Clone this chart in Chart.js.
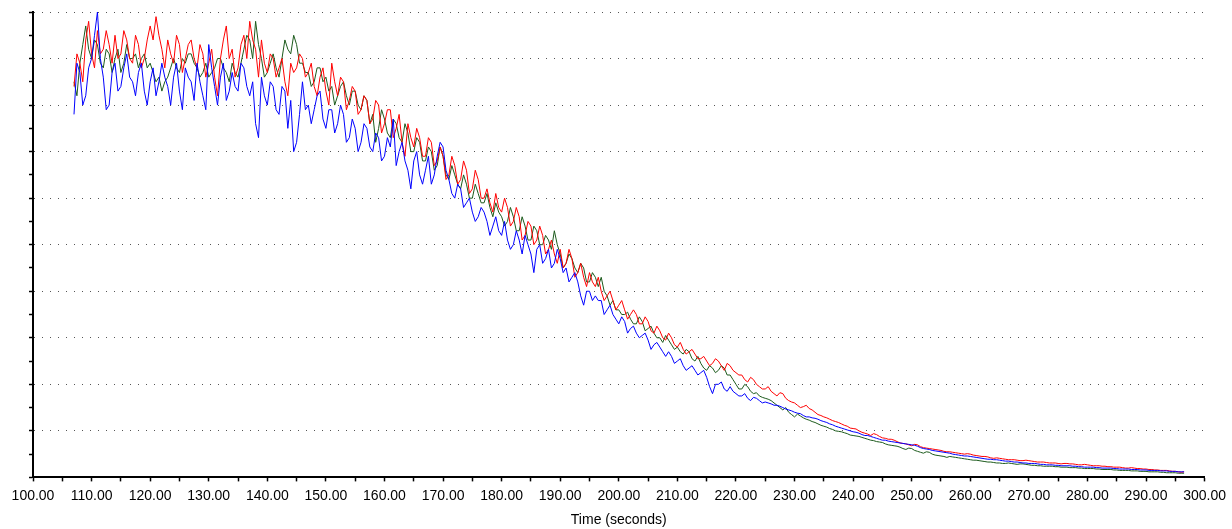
<!DOCTYPE html>
<html>
<head>
<meta charset="utf-8">
<script src="https://cdn.jsdelivr.net/npm/chart.js@4/dist/chart.umd.min.js"></script>
<style>
  html, body { margin: 0; padding: 0; background: #fff; }
  #wrap { width: 1232px; height: 529px; position: relative; }
</style>
</head>
<body>
<div id="wrap"><canvas id="chart"></canvas></div>
<script>
// sample times (seconds), one reading every half second from 107.0 to 296.5
var firstTime = 107;
var timeStep = 0.5;
var times = Array.from({ length: 380 }, (_, i) => firstTime + i * timeStep);

// readings, ten seconds (20 readings) per row
var redValues = [
    8.4, 9.1, 8.9, 8.5, 9.4, 9.8, 9.1, 8.8, 9.6, 9.1, 9.2, 9.6, 9.3, 8.9, 9.5, 9.0, 9.1, 9.6, 9.4, 9.0,
    8.9, 9.5, 9.3, 8.8, 9.0, 9.4, 9.7, 9.4, 9.9, 9.5, 9.2, 8.8, 9.4, 9.1, 8.9, 9.5, 9.3, 8.7, 9.0, 9.3,
    9.4, 9.0, 8.8, 9.3, 9.1, 8.6, 8.9, 9.2, 8.6, 8.2, 9.0, 9.4, 9.7, 9.0, 9.2, 8.6, 8.8, 9.3, 9.5, 9.0,
    9.8, 9.4, 9.2, 8.6, 9.4, 8.9, 8.7, 9.1, 9.0, 8.6, 8.8, 9.0, 8.5, 8.2, 8.9, 8.7, 8.8, 9.1, 9.0, 8.6,
    8.7, 8.9, 8.4, 8.2, 8.6, 8.8, 8.3, 8.0, 8.9, 8.5, 8.2, 8.6, 8.5, 7.9, 8.1, 8.4, 8.3, 7.8, 7.9, 8.2,
    8.1, 7.6, 7.7, 8.1, 8.0, 7.4, 7.6, 7.9, 7.9, 7.3, 7.5, 7.8, 7.2, 6.9, 7.6, 7.3, 7.1, 7.5, 7.3, 6.9,
    6.9, 7.3, 7.2, 6.7, 6.8, 7.1, 6.9, 6.4, 6.5, 6.9, 6.7, 6.3, 6.4, 6.8, 6.6, 6.1, 6.2, 6.6, 6.4, 6.0,
    6.0, 6.2, 5.9, 5.7, 6.1, 5.8, 5.7, 6.0, 5.8, 5.4, 5.5, 5.8, 5.6, 5.1, 5.2, 5.5, 5.4, 5.0, 5.1, 5.4,
    5.2, 4.8, 4.9, 5.1, 4.8, 4.6, 4.9, 4.5, 4.6, 4.9, 4.7, 4.3, 4.4, 4.6, 4.3, 4.1, 4.4, 4.2, 4.1, 4.3,
    4.0, 3.8, 3.9, 4.0, 3.8, 3.6, 3.7, 3.8, 3.6, 3.4, 3.5, 3.6, 3.5, 3.3, 3.3, 3.45, 3.35, 3.15, 3.1, 3.25,
    3.15, 3.0, 2.95, 3.1, 3.0, 2.85, 2.8, 2.9, 2.75, 2.65, 2.7, 2.75, 2.65, 2.55, 2.55, 2.6, 2.5, 2.4, 2.45, 2.55,
    2.5, 2.4, 2.3, 2.45, 2.4, 2.3, 2.25, 2.2, 2.2, 2.1, 2.05, 2.15, 2.1, 2.0, 1.95, 1.9, 1.9, 1.95, 1.85, 1.8,
    1.75, 1.82, 1.8, 1.7, 1.65, 1.62, 1.6, 1.55, 1.5, 1.52, 1.55, 1.48, 1.45, 1.4, 1.35, 1.33, 1.3, 1.28, 1.25, 1.22,
    1.2, 1.18, 1.15, 1.12, 1.1, 1.06, 1.05, 1.04, 1.0, 0.97, 0.95, 0.93, 0.9, 0.94, 0.92, 0.88, 0.85, 0.84, 0.82, 0.82,
    0.8, 0.77, 0.74, 0.73, 0.72, 0.7, 0.68, 0.71, 0.7, 0.66, 0.64, 0.63, 0.62, 0.61, 0.6, 0.59, 0.58, 0.56, 0.55, 0.55,
    0.54, 0.53, 0.52, 0.51, 0.5, 0.51, 0.5, 0.48, 0.47, 0.46, 0.45, 0.45, 0.44, 0.42, 0.41, 0.42, 0.41, 0.4, 0.39, 0.38,
    0.38, 0.38, 0.37, 0.36, 0.36, 0.37, 0.36, 0.35, 0.34, 0.33, 0.33, 0.33, 0.32, 0.31, 0.31, 0.31, 0.3, 0.29, 0.3, 0.3,
    0.29, 0.29, 0.28, 0.27, 0.27, 0.28, 0.27, 0.26, 0.25, 0.25, 0.25, 0.24, 0.24, 0.23, 0.23, 0.22, 0.22, 0.22, 0.21, 0.2,
    0.2, 0.21, 0.2, 0.19, 0.19, 0.18, 0.18, 0.17, 0.17, 0.16, 0.16, 0.15, 0.15, 0.15, 0.14, 0.13, 0.13, 0.12, 0.11, 0.12
];

var greenValues = [
    8.5, 8.2, 8.9, 9.3, 9.7, 9.2, 9.0, 9.4, 9.3, 8.9, 8.8, 9.2, 9.1, 8.7, 9.0, 9.2, 8.7, 8.9, 9.3, 9.0,
    9.0, 9.1, 8.8, 9.0, 9.1, 8.8, 8.9, 8.7, 8.5, 8.6, 8.3, 8.5, 8.6, 8.8, 9.0, 8.8, 8.7, 9.0, 8.9, 9.1,
    9.1, 8.9, 8.8, 8.6, 8.7, 8.9, 8.6, 8.7, 8.8, 9.0, 9.0, 8.8, 8.7, 8.5, 8.9, 8.7, 8.6, 8.9, 9.2, 9.5,
    9.4, 9.0, 9.8, 9.3, 9.0, 8.6, 8.7, 8.9, 9.1, 8.8, 8.6, 9.0, 9.4, 9.2, 9.1, 9.5, 9.3, 8.9, 8.9, 8.7,
    8.7, 8.4, 8.5, 8.8, 8.8, 8.5, 8.6, 8.3, 8.4, 8.0, 8.2, 8.4, 8.5, 8.2, 8.0, 8.3, 8.3, 8.0, 7.9, 8.2,
    8.1, 7.6, 7.8, 7.2, 7.5, 7.9, 7.7, 7.4, 7.3, 7.7, 7.6, 7.3, 7.2, 7.6, 7.4, 7.0, 7.0, 7.3, 7.2, 6.8,
    6.8, 7.1, 7.0, 6.6, 6.7, 7.1, 6.9, 6.5, 6.4, 6.7, 6.5, 6.3, 6.2, 6.5, 6.3, 6.0, 6.0, 6.3, 6.1, 5.9,
    5.9, 6.1, 5.8, 5.6, 5.9, 5.7, 5.6, 5.4, 5.5, 5.8, 5.6, 5.3, 5.3, 5.6, 5.4, 5.1, 5.1, 5.4, 5.3, 5.0,
    5.0, 5.2, 5.1, 4.9, 5.3, 5.0, 4.8, 4.5, 4.6, 4.8, 4.7, 4.5, 4.4, 4.6, 4.5, 4.2, 4.2, 4.4, 4.3, 4.1,
    4.3, 4.0, 3.9, 3.7, 3.8, 3.6, 3.6, 3.5, 3.5, 3.55, 3.4, 3.3, 3.3, 3.45, 3.35, 3.15, 3.2, 3.25, 3.1, 3.0,
    3.0, 2.9, 3.05, 2.95, 2.85, 2.75, 2.8, 2.7, 2.65, 2.75, 2.7, 2.55, 2.5, 2.6, 2.45, 2.35, 2.3, 2.4, 2.35, 2.25,
    2.3, 2.4, 2.35, 2.2, 2.2, 2.1, 2.0, 1.9, 1.9, 2.0, 1.95, 1.85, 1.8, 1.82, 1.75, 1.72, 1.7, 1.68, 1.65, 1.6,
    1.55, 1.5, 1.45, 1.5, 1.4, 1.35, 1.3, 1.36, 1.32, 1.28, 1.25, 1.23, 1.2, 1.18, 1.15, 1.12, 1.1, 1.08, 1.05, 1.03,
    1.0, 0.99, 0.98, 0.96, 0.94, 0.91, 0.9, 0.89, 0.88, 0.86, 0.84, 0.82, 0.8, 0.79, 0.77, 0.76, 0.75, 0.72, 0.7, 0.69,
    0.68, 0.67, 0.65, 0.62, 0.6, 0.63, 0.62, 0.58, 0.56, 0.54, 0.52, 0.55, 0.54, 0.5, 0.48, 0.47, 0.46, 0.45, 0.43, 0.45,
    0.44, 0.43, 0.42, 0.41, 0.4, 0.39, 0.38, 0.37, 0.37, 0.36, 0.35, 0.34, 0.33, 0.33, 0.32, 0.31, 0.31, 0.3, 0.3, 0.31,
    0.3, 0.29, 0.28, 0.29, 0.29, 0.28, 0.27, 0.26, 0.26, 0.25, 0.25, 0.24, 0.24, 0.24, 0.24, 0.23, 0.23, 0.22, 0.22, 0.22,
    0.21, 0.21, 0.21, 0.2, 0.2, 0.19, 0.19, 0.19, 0.19, 0.18, 0.18, 0.17, 0.17, 0.17, 0.17, 0.16, 0.16, 0.15, 0.15, 0.15,
    0.15, 0.14, 0.14, 0.14, 0.13, 0.13, 0.13, 0.12, 0.12, 0.12, 0.12, 0.11, 0.11, 0.1, 0.1, 0.1, 0.1, 0.09, 0.09, 0.09
];

var blueValues = [
    7.8, 8.9, 8.7, 8.0, 8.2, 8.8, 9.0, 9.5, 10.0, 9.0, 8.6, 7.9, 8.0, 8.7, 8.9, 8.3, 8.4, 8.8, 9.1, 8.6,
    8.5, 8.2, 8.7, 8.9, 8.3, 8.0, 8.5, 8.8, 8.2, 8.5, 8.9, 8.6, 8.4, 8.0, 8.6, 8.9, 8.3, 7.9, 8.8, 8.6,
    8.5, 8.1, 8.9, 8.5, 8.2, 7.9, 9.3, 8.8, 8.4, 8.0, 8.6, 8.9, 8.1, 8.3, 8.7, 8.4, 8.3, 8.9, 8.8, 8.4,
    8.2, 8.5, 7.6, 7.3, 8.6, 8.2, 8.0, 8.5, 8.4, 7.9, 7.8, 8.4, 8.3, 7.5, 8.1, 7.0, 7.2, 7.8, 8.5, 7.9,
    8.0, 7.6, 7.9, 8.2, 8.3, 7.7, 7.5, 7.9, 7.9, 7.4, 7.6, 8.0, 7.8, 7.2, 7.3, 7.7, 7.5, 7.0, 7.2, 7.6,
    7.5, 7.1, 7.0, 7.4, 7.3, 6.8, 6.9, 7.3, 7.1, 7.7, 6.7, 7.0, 7.2, 6.8, 6.6, 6.2, 6.8, 7.0, 6.5, 6.3,
    6.6, 6.9, 6.3, 6.5, 6.9, 7.2, 7.1, 6.6, 6.4, 6.1, 6.0, 6.3, 6.2, 5.8, 5.9, 6.0, 5.7, 5.5, 5.6, 5.8,
    5.7, 5.5, 5.2, 5.4, 5.6, 5.3, 5.2, 5.5, 5.1, 4.9, 5.0, 5.3, 5.1, 4.8, 5.2, 5.0, 4.8, 4.4, 4.9, 5.0,
    4.6, 4.7, 4.9, 4.5, 4.6, 4.9, 4.7, 4.4, 4.5, 4.2, 4.3, 4.4, 4.2, 3.9, 3.7, 4.0, 4.0, 3.8, 3.9, 3.8,
    3.8, 3.5, 3.6, 3.7, 3.5, 3.4, 3.3, 3.45, 3.35, 3.1, 3.2, 3.25, 3.1, 3.0, 3.05, 3.1, 2.95, 2.75, 2.85, 2.9,
    2.8, 2.7, 2.6, 2.7, 2.6, 2.45, 2.5, 2.55, 2.4, 2.3, 2.35, 2.4, 2.3, 2.2, 2.25, 2.3, 2.15, 1.95, 1.8, 2.0,
    2.0, 2.05, 1.9, 1.85, 1.95, 1.85, 1.8, 1.75, 1.75, 1.8, 1.7, 1.65, 1.72, 1.7, 1.65, 1.6, 1.62, 1.6, 1.58, 1.55,
    1.55, 1.53, 1.5, 1.47, 1.45, 1.43, 1.4, 1.38, 1.37, 1.33, 1.3, 1.3, 1.28, 1.27, 1.25, 1.22, 1.2, 1.18, 1.15, 1.13,
    1.1, 1.08, 1.06, 1.04, 1.02, 1.0, 0.98, 0.97, 0.95, 0.92, 0.9, 0.9, 0.88, 0.86, 0.84, 0.82, 0.8, 0.8, 0.78, 0.77,
    0.76, 0.75, 0.74, 0.73, 0.72, 0.71, 0.7, 0.69, 0.67, 0.64, 0.62, 0.61, 0.6, 0.58, 0.57, 0.56, 0.55, 0.54, 0.53, 0.52,
    0.5, 0.49, 0.48, 0.47, 0.46, 0.46, 0.45, 0.44, 0.43, 0.42, 0.41, 0.4, 0.39, 0.39, 0.38, 0.38, 0.37, 0.36, 0.35, 0.35,
    0.34, 0.33, 0.33, 0.32, 0.31, 0.31, 0.3, 0.3, 0.3, 0.29, 0.28, 0.28, 0.27, 0.27, 0.27, 0.26, 0.26, 0.25, 0.25, 0.25,
    0.25, 0.24, 0.24, 0.23, 0.23, 0.22, 0.22, 0.22, 0.22, 0.21, 0.21, 0.2, 0.2, 0.2, 0.2, 0.19, 0.19, 0.18, 0.18, 0.18,
    0.18, 0.17, 0.17, 0.17, 0.16, 0.16, 0.16, 0.15, 0.15, 0.15, 0.15, 0.14, 0.14, 0.14, 0.13, 0.13, 0.13, 0.12, 0.12, 0.12
];

var axisFont = { family: "'Liberation Sans', Arial, sans-serif", size: 14 };

function toPoints(values) {
    return values.map((v, i) => ({ x: times[i], y: v }));
}

var data = {
    datasets: [{
        label: 'blue',
        data: toPoints(blueValues),
        borderColor: '#0000ff',
    }, {
        label: 'red',
        data: toPoints(redValues),
        borderColor: '#ff0000',
    }, {
        label: 'green',
        data: toPoints(greenValues),
        borderColor: '#1c5a1c',
    }]
};

data.datasets.forEach(function (ds) {
    ds.borderWidth = 1;
    ds.pointRadius = 0;
    ds.fill = false;
    ds.tension = 0;
});

var options = {
    responsive: true,
    maintainAspectRatio: false,
    animation: false,
    layout: {
        padding: { left: 29, right: 3, top: 12, bottom: 0 }
    },
    scales: {
        x: {
            type: 'linear',
            min: 100,
            max: 300,
            grid: {
                drawOnChartArea: false,
                drawTicks: true,
                tickLength: 4,
                tickColor: '#000',
                tickWidth: 1.5
            },
            border: { display: true, color: '#000', width: 2 },
            ticks: {
                stepSize: 5,
                autoSkip: false,
                maxRotation: 0,
                padding: 6,
                color: '#000',
                font: axisFont,
                callback: function (value) {
                    return value % 10 === 0 ? value.toFixed(2) : '';
                }
            },
            title: {
                display: true,
                text: 'Time (seconds)',
                color: '#000',
                font: axisFont,
                padding: { top: 2, bottom: 0 }
            }
        },
        y: {
            min: 0,
            max: 10,
            grid: {
                drawTicks: true,
                tickLength: 4,
                tickWidth: 1.5,
                tickColor: '#000',
                lineWidth: 1,
                color: function (ctx) {
                    // dotted lines only at whole steps
                    return ctx.tick && ctx.tick.value % 1 === 0 ? '#555' : 'rgba(0,0,0,0)';
                }
            },
            border: { display: true, color: '#000', width: 2, dash: [1, 7] },
            ticks: {
                stepSize: 0.5,
                display: false
            }
        }
    },
    plugins: {
        legend: { display: false },
        tooltip: { enabled: false }
    }
};

var ctx = document.getElementById('chart').getContext('2d');
var chart = new Chart(ctx, {
    type: 'line',
    data: data,
    options: options
});
</script>
</body>
</html>
